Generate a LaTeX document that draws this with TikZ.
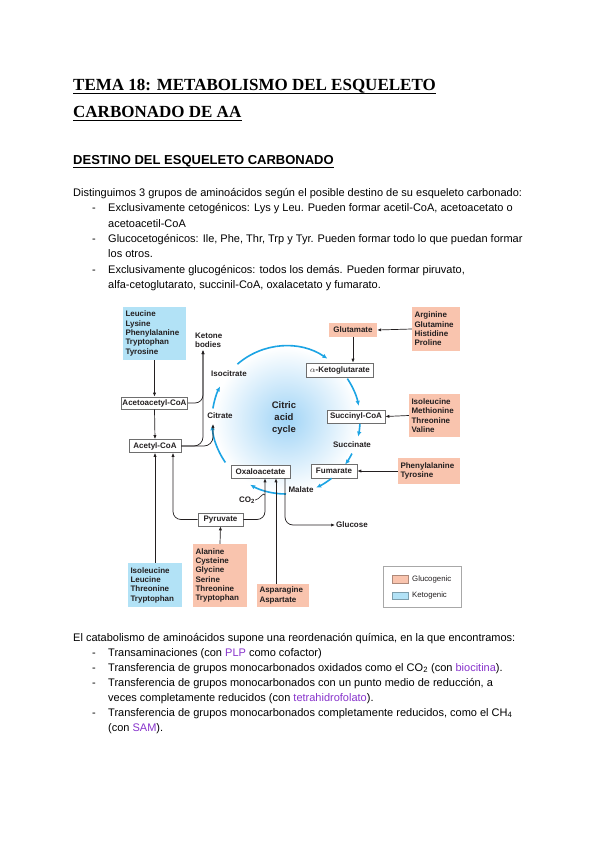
\documentclass[tikz,border=0pt]{standalone}
\usepackage{fontspec}
\setmainfont{Liberation Sans}
\newfontfamily\titlefont{Liberation Serif}
\usetikzlibrary{arrows.meta,calc}
\definecolor{glc}{RGB}{249,196,174}
\definecolor{ket}{RGB}{178,226,246}
\definecolor{cyc}{RGB}{28,164,228}
\definecolor{cycin}{RGB}{160,212,246}
\definecolor{purp}{RGB}{136,51,204}
\definecolor{bord}{RGB}{110,110,110}
\definecolor{ink}{RGB}{35,31,32}
\begin{document}
\begin{tikzpicture}[x=1pt,y=-1pt,
  txt/.style={anchor=base west, inner sep=0pt, font=\fontsize{11}{13}\selectfont},
  fig/.style={font=\fontsize{8}{9.3}\selectfont\bfseries, inner sep=0pt, text=ink},
  gbox/.style={fig, fill=glc, align=left, inner xsep=2.5pt},
  kbox/.style={fig, fill=ket, align=left, inner xsep=2.5pt},
  wbox/.style={fig, draw=bord, fill=white, line width=0.6pt},
  arr/.style={draw=ink, line width=0.7pt, -{Latex[length=4pt,width=3.2pt]}},
  cyca/.style={draw=cyc, line width=1.6pt, -{Latex[length=5pt,width=4.5pt]}},
  uline/.style={draw=black, line width=0.9pt}
]
\useasboundingbox (0,0) rectangle (600,848);
\fill[white] (0,0) rectangle (600,848);

% ---------- titles ----------
\node[anchor=base west, inner sep=0pt, font=\titlefont\bfseries\fontsize{17}{20}\selectfont] (t1) at (73,90.7) {TEMA 18: METABOLISMO DEL ESQUELETO};
\node[anchor=base west, inner sep=0pt, font=\titlefont\bfseries\fontsize{17}{20}\selectfont] (t2) at (73,117.3) {CARBONADO DE AA};
\draw[uline] ([yshift=-3pt]t1.base west) -- ([yshift=-3pt]t1.base east);
\draw[uline] ([yshift=-3pt]t2.base west) -- ([yshift=-3pt]t2.base east);
\node[anchor=base west, inner sep=0pt, font=\bfseries\fontsize{13}{15}\selectfont] (st) at (73,164.3) {DESTINO DEL ESQUELETO CARBONADO};
\draw[uline] ([yshift=-3pt]st.base west) -- ([yshift=-3pt]st.base east);

% ---------- first paragraph ----------
\node[txt] (p0) at (73,196.5) {Distinguimos 3 grupos de aminoácidos según el posible destino de su esqueleto carbonado:};
\node[txt] (d1) at (92,211.8) {-};
\node[txt] (p1) at (108,211.8) {Exclusivamente cetogénicos: Lys y Leu. Pueden formar acetil-CoA, acetoacetato o};
\node[txt] (p1b) at (108,227.2) {acetoacetil-CoA};
\node[txt] (d2) at (92,242.5) {-};
\node[txt] (p2) at (108,242.5) {Glucocetogénicos: Ile, Phe, Thr, Trp y Tyr. Pueden formar todo lo que puedan formar};
\node[txt] (p2b) at (108,257.8) {los otros.};
\node[txt] (d3) at (92,273.2) {-};
\node[txt] (p3) at (108,273.2) {Exclusivamente glucogénicos: todos los demás. Pueden formar piruvato,};
\node[txt] (p3b) at (108,288.5) {alfa-cetoglutarato, succinil-CoA, oxalacetato y fumarato.};

% ---------- figure ----------
\coordinate (C) at (286,420);
\shade[inner color=cycin, outer color=white] (C) circle[radius=73];

\node[kbox, text width=58pt, minimum height=53pt] (keto1) at (154.5,333.5) {Leucine\\Lysine\\Phenylalanine\\Tryptophan\\Tyrosine};
\node[fig, anchor=west, align=left] (kb) at (195,340) {Ketone\\bodies};
\node[wbox, minimum width=66pt, minimum height=12pt] (acac) at (154.5,403) {Acetoacetyl-CoA};
\node[wbox, minimum width=52pt, minimum height=13pt] (acoa) at (155,446) {Acetyl-CoA};
\node[fig] (cit) at (220,416) {Citrate};
\node[fig] (iso) at (229,374) {Isocitrate};
\node[fig, align=center, font=\fontsize{9.5}{12}\selectfont\bfseries] (cac) at (284,418) {Citric\\acid\\cycle};

\node[fig, fill=glc, minimum width=48pt, minimum height=14pt] (glu) at (353,330) {Glutamate};
\node[gbox, text width=43pt, minimum height=44pt] (glusrc) at (436,329) {Arginine\\Glutamine\\Histidine\\Proline};
\node[wbox, minimum width=67pt, minimum height=14pt] (akg) at (340,370) {$\alpha$-Ketoglutarate};
\node[wbox, minimum width=58pt, minimum height=13pt] (succ) at (356,416.5) {Succinyl-CoA};
\node[gbox, text width=46pt, minimum height=43pt] (succsrc) at (434.5,415.5) {Isoleucine\\Methionine\\Threonine\\Valine};
\node[fig] (sccn) at (352,445) {Succinate};
\node[wbox, minimum width=46pt, minimum height=14pt] (fum) at (334,471) {Fumarate};
\node[gbox, text width=57pt, minimum height=26pt] (fumsrc) at (429,471) {Phenylalanine\\Tyrosine};
\node[fig] (mal) at (301,490) {Malate};
\node[wbox, minimum width=59pt, minimum height=13pt] (oaa) at (260.5,471.5) {Oxaloacetate};
\node[wbox, minimum width=45pt, minimum height=13pt] (pyr) at (220.5,519.5) {Pyruvate};
\node[fig] (co2) at (247,500) {CO\textsubscript{2}};
\node[fig, anchor=west, inner xsep=1pt] (gluc) at (335,525) {Glucose};
\node[gbox, text width=49pt, minimum height=63pt] (pyrsrc) at (220,575.5) {Alanine\\Cysteine\\Glycine\\Serine\\Threonine\\Tryptophan};
\node[kbox, text width=49pt, minimum height=44pt] (ketosrc) at (155,585) {Isoleucine\\Leucine\\Threonine\\Tryptophan};
\node[gbox, text width=47pt, minimum height=23pt] (asnsrc) at (283,595.5) {Asparagine\\Aspartate};

% legend
\node[draw=bord!60, fill=white, line width=0.6pt, minimum width=78pt, minimum height=41pt, inner sep=0pt] (leg) at (422,586.5) {};
\node[fill=glc, draw=glc!70!black, line width=0.3pt, minimum width=16pt, minimum height=8pt, inner sep=0pt] (sw1) at (400,579) {};
\node[fill=ket, draw=ket!70!black, line width=0.3pt, minimum width=16pt, minimum height=7pt, inner sep=0pt] (sw2) at (400,595.5) {};
\node[fig, font=\fontsize{7.8}{9}\selectfont, anchor=west] (lg1) at (412,579) {Glucogenic};
\node[fig, font=\fontsize{7.8}{9}\selectfont, anchor=west] (lg2) at (412,595.5) {Ketogenic};

% citric acid cycle arcs
\draw[cyca] ($(C)+(90:74)$) arc[start angle=90, end angle=119, radius=74];
\draw[cyca] ($(C)+(145:74)$) arc[start angle=145, end angle=176, radius=74];
\draw[cyca] ($(C)+(189:74)$) arc[start angle=189, end angle=207, radius=74];
\draw[cyca] ($(C)+(229:74)$) arc[start angle=229, end angle=304, radius=74];
\draw[cyca] ($(C)+(326:74)$) arc[start angle=326, end angle=349, radius=74];
\draw[cyca] ($(C)+(3:74)$) arc[start angle=3, end angle=13, radius=74];
\draw[cyca] ($(C)+(27:74)$) arc[start angle=27, end angle=37, radius=74];
\draw[cyca] ($(C)+(52:74)$) arc[start angle=52, end angle=66, radius=74];

% connectors
\coordinate (kbtip) at (203,350);
\coordinate (cittip) at (213,424);
\coordinate (co2j) at (265,495);
\draw[arr] (keto1.south) -- (acac.north);
\draw[arr] (acac.south) -- (acoa.north);
\draw[arr, rounded corners=8pt] (acac.east) -| (kbtip);
\draw[arr, rounded corners=9pt] (acoa.east) -| (kbtip);
\draw[arr, rounded corners=9pt] (acoa.east) -| (cittip);
\draw[arr, rounded corners=8pt] (pyr.west) -| ([xshift=18pt]acoa.south);
\draw[arr, rounded corners=8pt] (pyr.east) -| ([xshift=4.5pt]oaa.south);
\draw[draw=ink, line width=0.6pt] (co2.east) to[out=0, in=110] (co2j);
\draw[arr] ([xshift=-7pt]asnsrc.north) -- ([xshift=15.5pt]oaa.south);
\draw[arr, rounded corners=8pt] ([xshift=24.5pt]oaa.south) |- (gluc.west);
\draw[arr] (pyrsrc.north) -- (pyr.south);
\draw[arr] (ketosrc.north) -- (acoa.south);
\draw[arr] (glusrc.west) -- (glu.east);
\draw[arr] (glu.south) -- (glu.south |- akg.north);
\draw[arr] (succsrc.west) -- (succ.east);
\draw[arr] (fumsrc.west) -- (fum.east);

% ---------- second paragraph ----------
\node[txt] (q0) at (73,641) {El catabolismo de aminoácidos supone una reordenación química, en la que encontramos:};
\node[txt] (e1) at (92,656) {-};
\node[txt] (q1) at (108,656) {Transaminaciones (con \textcolor{purp}{PLP} como cofactor)};
\node[txt] (e2) at (92,671) {-};
\node[txt] (q2) at (108,671) {Transferencia de grupos monocarbonados oxidados como el CO\textsubscript{2} (con \textcolor{purp}{biocitina}).};
\node[txt] (e3) at (92,686) {-};
\node[txt] (q3) at (108,686) {Transferencia de grupos monocarbonados con un punto medio de reducción, a};
\node[txt] (q3b) at (108,701) {veces completamente reducidos (con \textcolor{purp}{tetrahidrofolato}).};
\node[txt] (e4) at (92,716) {-};
\node[txt] (q4) at (108,716) {Transferencia de grupos monocarbonados completamente reducidos, como el CH\textsubscript{4}};
\node[txt] (q4b) at (108,731) {(con \textcolor{purp}{SAM}).};
\end{tikzpicture}
\end{document}
